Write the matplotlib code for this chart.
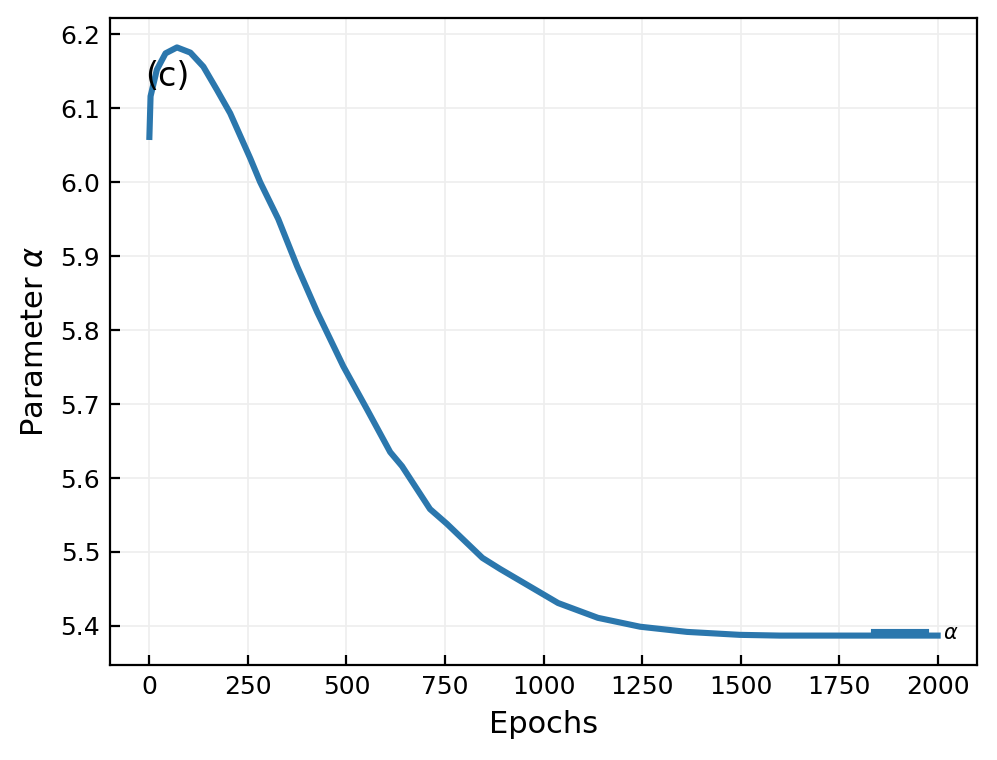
import numpy as np
import matplotlib.pyplot as plt

# values
epochs = [0, 3, 19, 41, 70, 104, 137, 171, 205, 256, 281, 327, 375, 426,
          492, 552, 611, 641, 712, 755, 845, 890, 1037, 1138, 1245, 1364, 1498,
          1600, 1800, 2000]
alpha = [6.061, 6.116, 6.152, 6.174, 6.182, 6.175, 6.156, 6.125, 6.093, 6.032,
         6.000, 5.950, 5.886, 5.824, 5.751, 5.693, 5.635, 5.616,
         5.558, 5.538, 5.492, 5.477, 5.431, 5.411, 5.399, 5.392, 5.388, 5.387,
         5.387, 5.387]

fig = plt.figure(figsize=(4.985, 3.8), dpi=200)
ax = fig.add_axes([0.1103, 0.125, 0.8697, 0.8513])

ax.plot(epochs, alpha, color='#2b77ad', linewidth=2.2, label=r'$\alpha$')
ax.grid(True, color='#eeeeee', linewidth=0.6)
ax.set_axisbelow(True)
ax.tick_params(direction='in', labelsize=9)
ax.set_xticks(np.arange(0, 2001, 250))
ax.set_xlabel('Epochs', fontsize=11)
ax.set_ylabel(r'Parameter $\alpha$', fontsize=11)
ax.text(0.04, 0.91, '(c)', transform=ax.transAxes, fontsize=12, va='center')
ax.legend(loc='lower right', bbox_to_anchor=(1.0, 0.005), frameon=False,
          fontsize=7.5, handlelength=2.5)

fig.savefig('out.png', dpi=200)
